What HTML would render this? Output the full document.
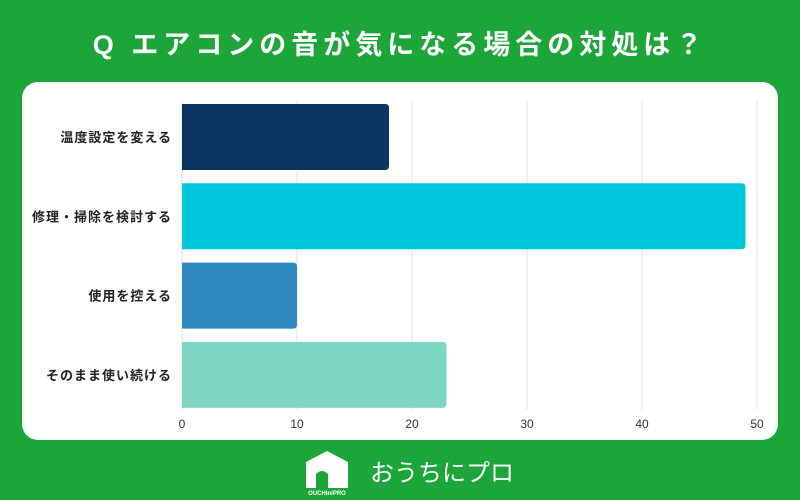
<!DOCTYPE html>
<html><head><meta charset="utf-8"><style>
body{margin:0;width:800px;height:500px;background:#1ca538;overflow:hidden;font-family:"Liberation Sans","Noto Sans CJK JP",sans-serif;}
#title{position:absolute;left:0;top:27px;width:800px;text-align:center;color:#fff;font-size:27px;line-height:36px;font-weight:bold;font-family:"Liberation Sans","Noto Sans CJK JP",sans-serif;letter-spacing:5px}
#panel{position:absolute;left:22px;top:82px;width:756px;height:358px;background:#fff;border-radius:16px}
svg{position:absolute;left:0;top:0}
</style></head><body>
<div id="title">Q エアコンの音が気になる場合の対処は？</div>
<div id="panel"></div>
<svg id="chart" width="800" height="500"></svg>
<svg width="800" height="500">
<path d="M306 488 L306 462 L327 451 L348 462 L348 488 Z" fill="#fff"/>
<path d="M316 488 L316 474 Q322 468 328 474 L328 488 Z" fill="#1ca538"/>
<text x="327" y="495" font-size="6" fill="#fff" text-anchor="middle" font-family="Liberation Sans, sans-serif" font-weight="bold">OUCHIniPRO</text>
<text x="370" y="481" font-size="24" fill="#fff" font-family="Liberation Sans, Noto Sans CJK JP, sans-serif">おうちにプロ</text>
</svg>
<script>
const categories=["温度設定を変える","修理・掃除を検討する","使用を控える","そのまま使い続ける"];
const values=[18,49,10,23];
const colors=["#0c3463","#00c8dc","#2f88c0","#7dd6c4"];
const ticks=[0,10,20,30,40,50];
const svg=document.getElementById('chart');
const NS="http://www.w3.org/2000/svg";
const x0=182,x1=757,xmax=50;
const xs=v=>x0+(x1-x0)*v/xmax;
const top0=104,step=79.3,bh=66;
function el(t,a){const e=document.createElementNS(NS,t);for(const k in a)e.setAttribute(k,a[k]);svg.appendChild(e);return e;}
ticks.forEach(t=>{
 const g=el('line',{x1:xs(t),x2:xs(t),y1:100,y2:410,stroke:'#e3e3e3','stroke-width':1});
 
 
 const l=el('text',{x:xs(t),y:428,'font-size':12,fill:'#333','text-anchor':'middle'});
 l.textContent=t;
 
 
});
categories.forEach((c,i)=>{
 const y=top0+i*step;
 const w=xs(values[i])-x0;
 const p=el('path',{d:`M${x0} ${y} H${x0+w-4} Q${x0+w} ${y} ${x0+w} ${y+4} V${y+bh-4} Q${x0+w} ${y+bh} ${x0+w-4} ${y+bh} H${x0} Z`,fill:colors[i]});
 
 
 const t=el('text',{x:172,y:y+bh/2+5,'font-size':13,'letter-spacing':1,fill:'#222','text-anchor':'end','font-weight':'bold'});
 t.textContent=c;
 
 
});
</script>
</body></html>
